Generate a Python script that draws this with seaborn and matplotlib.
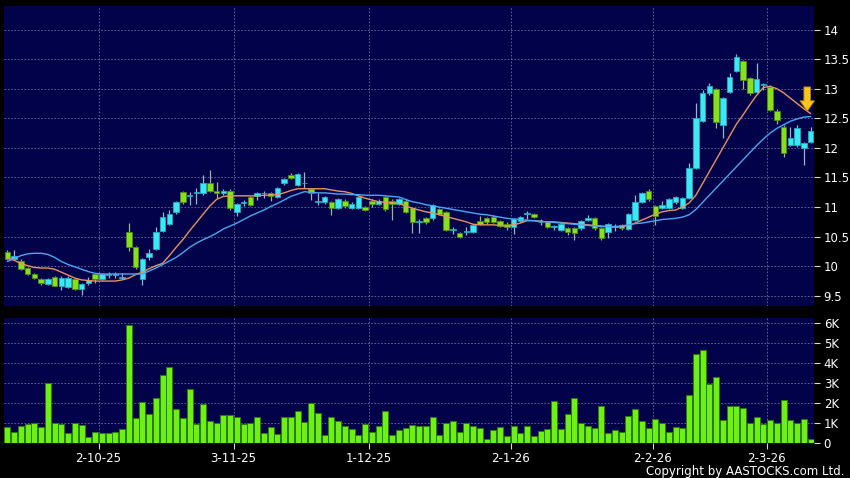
import numpy as np
import pandas as pd
import matplotlib
matplotlib.use("Agg")
import matplotlib.pyplot as plt
import seaborn as sns

# ---------------- data ----------------
opens = [10.24, 10.12, 10.09, 9.97, 9.87, 9.78, 9.70, 9.82, 9.66, 9.65,
         9.79, 9.61, 9.72, 9.87, 9.78, 9.85, 9.85, 9.81, 10.58, 10.33,
         9.78, 10.16, 10.29, 10.60, 10.71, 10.91, 11.25, 11.19, 11.23, 11.23,
         11.40, 11.28, 11.23, 11.28, 10.91, 11.07, 11.17, 11.19, 11.23, 11.23,
         11.17, 11.40, 11.54, 11.37, 11.40, 11.30, 11.09, 11.08, 11.08, 10.98,
         11.11, 10.98, 10.98, 11.00, 11.11, 11.05, 11.17, 11.11, 11.06, 11.11,
         10.98, 10.75, 10.81, 10.81, 10.96, 10.91, 10.61, 10.56, 10.58, 10.58,
         10.77, 10.81, 10.84, 10.77, 10.72, 10.66, 10.77, 10.88, 10.88, 10.74,
         10.75, 10.66, 10.61, 10.65, 10.65, 10.64, 10.78, 10.81, 10.64, 10.58,
         10.67, 10.69, 10.63, 10.79, 11.09, 11.28, 11.02, 10.98, 10.98, 11.08,
         10.98, 11.16, 11.66, 12.45, 12.92, 12.99, 12.39, 12.95, 13.30, 13.46,
         13.18, 12.94, 13.07, 13.03, 12.63, 12.36, 12.05, 12.05, 11.99, 12.10]
highs = [10.28, 10.28, 10.12, 9.99, 9.88, 9.80, 9.80, 9.84, 9.83, 9.83,
         9.81, 9.72, 9.82, 9.89, 9.89, 9.90, 9.90, 9.88, 10.73, 10.35,
         10.14, 10.30, 10.67, 10.92, 10.95, 11.11, 11.27, 11.26, 11.32, 11.54,
         11.63, 11.43, 11.30, 11.30, 11.07, 11.12, 11.19, 11.25, 11.28, 11.25,
         11.34, 11.49, 11.58, 11.58, 11.60, 11.32, 11.23, 11.19, 11.10, 11.15,
         11.13, 11.08, 11.19, 11.02, 11.13, 11.13, 11.19, 11.13, 11.15, 11.13,
         11.00, 10.80, 10.83, 11.05, 10.98, 10.93, 10.66, 10.58, 10.66, 10.72,
         10.85, 10.83, 10.86, 10.79, 10.74, 10.82, 10.85, 10.94, 10.90, 10.80,
         10.77, 10.70, 10.74, 10.67, 10.67, 10.79, 10.86, 10.83, 10.66, 10.73,
         10.72, 10.71, 10.90, 11.20, 11.25, 11.30, 11.04, 11.10, 11.15, 11.19,
         11.17, 11.74, 12.75, 12.97, 13.09, 13.01, 12.86, 13.26, 13.58, 13.48,
         13.20, 13.44, 13.10, 13.06, 12.65, 12.38, 12.36, 12.38, 12.10, 12.35]
lows = [10.11, 10.11, 9.94, 9.86, 9.79, 9.68, 9.69, 9.66, 9.60, 9.64,
        9.60, 9.52, 9.69, 9.72, 9.77, 9.80, 9.80, 9.78, 10.25, 9.96,
        9.68, 10.10, 10.27, 10.58, 10.69, 10.89, 11.05, 11.03, 11.06, 11.21,
        11.26, 11.15, 11.21, 10.95, 10.85, 11.02, 11.02, 11.12, 11.15, 11.10,
        11.15, 11.38, 11.47, 11.35, 11.32, 11.12, 11.04, 11.06, 10.87, 10.96,
        10.99, 10.96, 10.96, 10.93, 11.00, 11.03, 10.94, 10.78, 11.04, 10.90,
        10.56, 10.56, 10.72, 10.79, 10.86, 10.59, 10.55, 10.48, 10.52, 10.56,
        10.69, 10.72, 10.73, 10.66, 10.62, 10.54, 10.75, 10.80, 10.81, 10.70,
        10.65, 10.62, 10.59, 10.53, 10.44, 10.62, 10.76, 10.62, 10.45, 10.48,
        10.60, 10.62, 10.61, 10.77, 11.07, 11.11, 10.70, 10.96, 10.96, 11.06,
        10.96, 11.14, 11.64, 12.43, 12.90, 12.33, 12.17, 12.93, 13.28, 13.00,
        12.90, 12.92, 12.98, 12.62, 12.40, 11.84, 12.03, 12.02, 11.71, 12.08]
closes = [10.13, 10.18, 9.95, 9.87, 9.80, 9.71, 9.78, 9.67, 9.81, 9.81,
          9.61, 9.70, 9.77, 9.78, 9.87, 9.86, 9.86, 9.82, 10.32, 9.98,
          10.12, 10.22, 10.58, 10.83, 10.88, 11.09, 11.08, 11.20, 11.26, 11.40,
          11.28, 11.23, 11.28, 10.98, 11.05, 11.08, 11.04, 11.23, 11.24, 11.19,
          11.32, 11.47, 11.49, 11.56, 11.41, 11.24, 11.10, 11.17, 10.98, 11.13,
          11.01, 11.06, 11.17, 10.95, 11.06, 11.11, 10.96, 11.05, 11.13, 10.92,
          10.74, 10.76, 10.74, 11.03, 10.88, 10.61, 10.62, 10.50, 10.59, 10.70,
          10.71, 10.74, 10.75, 10.68, 10.67, 10.80, 10.83, 10.89, 10.83, 10.75,
          10.67, 10.67, 10.72, 10.58, 10.57, 10.77, 10.81, 10.64, 10.47, 10.71,
          10.68, 10.64, 10.88, 11.09, 11.23, 11.13, 10.85, 11.03, 11.13, 11.17,
          11.15, 11.66, 12.50, 12.92, 13.05, 12.43, 12.84, 13.19, 13.54, 13.15,
          12.92, 13.16, 13.08, 12.64, 12.47, 11.91, 12.17, 12.33, 12.08, 12.29]
ma_short = [10.14, 10.10, 10.05, 10.01, 9.98, 9.97, 9.97, 9.95, 9.90, 9.85,
            9.80, 9.77, 9.76, 9.75, 9.75, 9.75, 9.75, 9.77, 9.80, 9.86,
            9.90, 9.96, 10.01, 10.05, 10.18, 10.32, 10.45, 10.60, 10.74, 10.88,
            11.02, 11.13, 11.18, 11.19, 11.19, 11.19, 11.19, 11.19, 11.20, 11.20,
            11.21, 11.24, 11.28, 11.31, 11.31, 11.31, 11.31, 11.31, 11.29, 11.27,
            11.26, 11.23, 11.19, 11.15, 11.12, 11.09, 11.08, 11.07, 11.06, 11.02,
            10.98, 10.95, 10.92, 10.90, 10.87, 10.84, 10.81, 10.78, 10.75, 10.71,
            10.70, 10.70, 10.70, 10.69, 10.68, 10.70, 10.73, 10.77, 10.77, 10.76,
            10.75, 10.75, 10.74, 10.73, 10.72, 10.71, 10.70, 10.69, 10.68, 10.67,
            10.67, 10.67, 10.69, 10.73, 10.78, 10.83, 10.88, 10.92, 10.94, 10.95,
            11.00, 11.07, 11.20, 11.40, 11.60, 11.80, 12.00, 12.20, 12.40, 12.56,
            12.73, 12.89, 13.02, 13.04, 13.00, 12.93, 12.84, 12.75, 12.66, 12.58]
ma_long = [10.08, 10.13, 10.18, 10.21, 10.22, 10.22, 10.20, 10.15, 10.08, 10.03,
           9.99, 9.95, 9.91, 9.88, 9.87, 9.87, 9.87, 9.87, 9.87, 9.87,
           9.87, 9.92, 9.97, 10.03, 10.09, 10.15, 10.23, 10.32, 10.39, 10.45,
           10.50, 10.56, 10.63, 10.68, 10.73, 10.79, 10.85, 10.90, 10.95, 11.01,
           11.06, 11.12, 11.18, 11.22, 11.26, 11.25, 11.24, 11.24, 11.23, 11.22,
           11.22, 11.21, 11.21, 11.20, 11.20, 11.20, 11.19, 11.18, 11.17, 11.13,
           11.09, 11.07, 11.04, 11.02, 11.00, 10.98, 10.96, 10.94, 10.92, 10.90,
           10.88, 10.87, 10.85, 10.83, 10.81, 10.80, 10.79, 10.78, 10.77, 10.76,
           10.75, 10.74, 10.73, 10.72, 10.71, 10.70, 10.69, 10.68, 10.67, 10.67,
           10.67, 10.68, 10.70, 10.72, 10.73, 10.75, 10.77, 10.79, 10.80, 10.81,
           10.83, 10.87, 10.96, 11.08, 11.20, 11.32, 11.44, 11.56, 11.68, 11.80,
           11.92, 12.04, 12.15, 12.25, 12.33, 12.39, 12.45, 12.49, 12.52, 12.53]
volume_k = [0.80, 0.58, 0.87, 0.97, 1.00, 0.80, 3.03, 1.00, 0.95, 0.50,
            1.03, 0.92, 0.32, 0.55, 0.50, 0.52, 0.55, 0.72, 5.92, 1.25,
            2.05, 1.45, 2.25, 3.40, 3.82, 1.70, 1.25, 2.72, 0.97, 1.95,
            1.12, 1.03, 1.42, 1.43, 1.33, 0.97, 1.02, 1.30, 0.50, 0.82,
            0.48, 1.30, 1.33, 1.62, 1.07, 2.03, 1.50, 0.43, 1.32, 1.12,
            0.85, 0.70, 0.40, 0.98, 0.58, 0.87, 1.60, 0.40, 0.67, 0.77,
            0.90, 0.85, 0.87, 1.30, 0.42, 1.02, 1.13, 0.57, 1.02, 0.85,
            0.75, 0.23, 0.67, 0.83, 0.35, 0.87, 0.53, 0.87, 0.37, 0.63,
            0.72, 2.13, 0.73, 1.47, 2.25, 1.03, 0.87, 0.77, 1.85, 0.53,
            0.65, 0.58, 1.35, 1.70, 1.12, 0.78, 1.20, 1.03, 0.55, 0.82,
            0.77, 2.40, 4.45, 4.65, 2.98, 3.30, 1.15, 1.85, 1.87, 1.78,
            1.00, 1.30, 0.97, 1.17, 1.03, 2.15, 1.17, 1.00, 1.22, 0.20]
date_labels = ["2-10-25", "3-11-25", "1-12-25", "2-1-26", "2-2-26", "2-3-26"]
date_pos = [13.5, 33.5, 53.5, 74.6, 95.6, 112.5]
price_ticks = [9.5, 10, 10.5, 11, 11.5, 12, 12.5, 13, 13.5, 14]
vol_ticks_k = [0, 1, 2, 3, 4, 5, 6]
arrow_top, arrow_tip = 13.03, 12.62

n = len(closes)
idx = np.arange(n)
df = pd.DataFrame({"i": idx, "open": opens, "high": highs, "low": lows,
                   "close": closes, "ma_s": ma_short, "ma_l": ma_long,
                   "vol": np.array(volume_k) * 1000})

# ---------------- style ----------------
BG = "#000000"
PANEL = "#02024a"
GRID = "#6e6e9e"
UP_FILL, UP_EDGE = "#3fe6f4", "#20aebf"
DN_FILL, DN_EDGE = "#86e01e", "#4f8c10"
WICK_UP, WICK_DN = "#8fb8c8", "#a0b090"
VOL_FILL, VOL_EDGE = "#6cf016", "#2f7a05"

sns.set_theme(style="dark", rc={"axes.facecolor": PANEL, "figure.facecolor": BG})
plt.rcParams["font.family"] = ["DejaVu Sans"]

fig = plt.figure(figsize=(8.5, 4.78), dpi=100)
fig.patch.set_facecolor(BG)
W, H = 850.0, 478.0
ax = fig.add_axes([4 / W, 1 - 306 / H, 810 / W, 300 / H])
axv = fig.add_axes([4 / W, 1 - 443.3 / H, 810 / W, 125 / H])

for a in (ax, axv):
    a.set_facecolor(PANEL)
    for s in a.spines.values():
        s.set_visible(False)
    a.set_xlim(-0.5, n - 0.5)
    a.set_xticks(date_pos)
    a.yaxis.tick_right()
    a.grid(True, color=GRID, linestyle=(0, (2, 2)), linewidth=0.6)
    a.set_axisbelow(True)
    a.tick_params(axis="y", which="both", colors="#d8d8d8", labelcolor="white",
                  length=4, width=0.8, pad=3, labelsize=8.5, right=True, left=False,
                  labelright=True, labelleft=False, direction="out")

# ---------------- candles ----------------
up = df["close"] >= df["open"]
for mask, fill, edge, wick in ((up, UP_FILL, UP_EDGE, WICK_UP), (~up, DN_FILL, DN_EDGE, WICK_DN)):
    d = df[mask]
    ax.vlines(d["i"], d["low"], d["high"], color=wick, linewidth=0.9, zorder=2)
    bottom = np.minimum(d["open"], d["close"])
    height = np.maximum(np.abs(d["close"] - d["open"]), 0.015)
    ax.bar(d["i"], height, bottom=bottom, width=0.78, color=fill,
           edgecolor=edge, linewidth=0.6, zorder=3)

sns.lineplot(data=df, x="i", y="ma_s", ax=ax, color="#e8925e", linewidth=1.0, zorder=4)
sns.lineplot(data=df, x="i", y="ma_l", ax=ax, color="#4aa6f2", linewidth=1.0, zorder=4)

ax.annotate("", xy=(n - 1.5, arrow_tip), xytext=(n - 1.5, arrow_top),
            arrowprops=dict(arrowstyle="simple,head_length=0.75,head_width=1.05,tail_width=0.48",
                            mutation_scale=10, fc="#f7c51c", ec="#b98200", lw=0.6,
                            shrinkA=0, shrinkB=0),
            zorder=6)

ax.set_ylim(9.329, 14.397)
ax.set_yticks(price_ticks)
ax.set_yticklabels([f"{t:g}" for t in price_ticks])
ax.tick_params(axis="x", length=0, labelbottom=False)
ax.set_xlabel("")
ax.set_ylabel("")

# ---------------- volume ----------------
sns.barplot(data=df, x="i", y="vol", ax=axv, native_scale=True, color=VOL_FILL,
            saturation=1, width=0.86, edgecolor=VOL_EDGE, linewidth=0.7, zorder=3)
axv.set_xlim(-0.5, n - 0.5)
axv.set_ylim(0, 6250)
axv.set_yticks([k * 1000 for k in vol_ticks_k])
axv.set_yticklabels(["0"] + [f"{k}K" for k in vol_ticks_k[1:]])
axv.set_xticks(date_pos)
axv.set_xticklabels(date_labels)
axv.tick_params(axis="x", colors="#d8d8d8", labelcolor="white", length=4, width=0.8,
                pad=2, labelsize=8.5, bottom=True, direction="out")
axv.set_xlabel("")
axv.set_ylabel("")

fig.text(845 / W, 1 - 471 / H, "Copyright by AASTOCKS.com Ltd.", color="white",
         fontsize=8.5, ha="right", va="center")

fig.savefig("out.png", dpi=100, facecolor=BG)
